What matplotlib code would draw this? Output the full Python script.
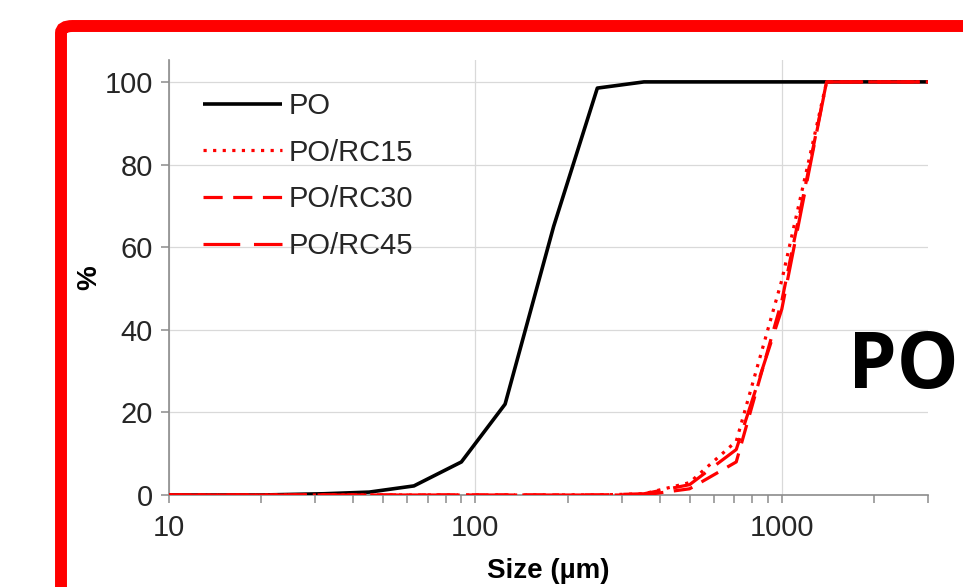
import matplotlib
matplotlib.use("Agg")
import matplotlib.pyplot as plt
from matplotlib.patches import FancyBboxPatch
from matplotlib.ticker import FixedLocator, NullFormatter

# ---- data ----
sizes = [10, 20, 32, 45, 63, 90, 125, 180, 250, 355, 500, 710, 1000, 1400, 2000, 3000]
po    = [0, 0, 0.3, 0.7, 2.2, 8, 22, 65, 98.5, 100, 100, 100, 100, 100, 100, 100]
rc15  = [0, 0, 0, 0, 0, 0, 0, 0, 0, 0.3, 3.0, 13, 52, 100, 100, 100]
rc30  = [0, 0, 0, 0, 0, 0, 0, 0, 0, 0.0, 1.5, 8, 47, 100, 100, 100]
rc45  = [0, 0, 0, 0, 0, 0, 0, 0, 0, 0.3, 2.5, 11, 45, 100, 100, 100]
labels = ["PO", "PO/RC15", "PO/RC30", "PO/RC45"]
x_major = [10, 100, 1000]
x_minor = [20, 30, 40, 50, 60, 70, 80, 90, 200, 300, 400, 500, 600, 700, 800, 900, 2000, 3000]
y_ticks = [0, 20, 40, 60, 80, 100]

W, H = 963, 587
fig = plt.figure(figsize=(W / 100, H / 100), dpi=100)
fig.patch.set_facecolor("white")

# red frame
frame = FancyBboxPatch((61 / W, -0.2), 1.3, 1 - 26 / H + 0.2,
                       boxstyle="round,pad=0,rounding_size=0.012",
                       transform=fig.transFigure, fill=False,
                       edgecolor="#ff0000", linewidth=8.6, zorder=0)
fig.patches.append(frame)

ax = fig.add_axes([169 / W, 1 - 495 / H, (928 - 169) / W, (495 - 60) / H])
ax.set_facecolor("none")

lw = 2.3
ax.plot(sizes, po, color="black", lw=2.6, solid_capstyle="butt", label=labels[0], zorder=3)
ax.plot(sizes, rc15, color="#ff0000", lw=lw, linestyle=(0, (1, 2)), label=labels[1], zorder=4)
ax.plot(sizes, rc30, color="#ff0000", lw=lw, linestyle=(0, (6, 3.3)), label=labels[2], zorder=4)
ax.plot(sizes, rc45, color="#ff0000", lw=lw, linestyle=(0, (11.5, 4.3)), label=labels[3], zorder=4)

ax.set_xscale("log")
ax.set_xlim(10, 3000)
ax.set_ylim(0, 105.3)
ax.xaxis.set_major_locator(FixedLocator(x_major))
ax.xaxis.set_minor_locator(FixedLocator(x_minor))
ax.xaxis.set_minor_formatter(NullFormatter())
ax.set_xticklabels([str(v) for v in x_major])
ax.set_yticks(y_ticks)
ax.set_yticklabels([str(v) for v in y_ticks])

font = "Liberation Sans"
tcol = "#262626"
for lab in ax.get_xticklabels() + ax.get_yticklabels():
    lab.set_fontfamily(font)
    lab.set_fontsize(21)
    lab.set_color(tcol)

gcol = "#d9d9d9"
ax.grid(True, which="major", axis="both", color=gcol, lw=0.9, zorder=0)
ax.set_axisbelow(True)

for s in ["top", "right"]:
    ax.spines[s].set_visible(False)
for s in ["left", "bottom"]:
    ax.spines[s].set_color("#8c8c8c")
    ax.spines[s].set_linewidth(1.2)

ax.tick_params(axis="both", which="both", direction="out", length=5.5, width=1.1, color="#8c8c8c")
ax.tick_params(axis="x", which="major", pad=8)
ax.tick_params(axis="y", which="major", pad=6)

ax.set_xlabel("Size (µm)", fontfamily=font, fontsize=20, fontweight="bold", color="black", labelpad=12)
ax.set_ylabel("%", fontfamily=font, fontsize=20, fontweight="bold", color="black")
ax.yaxis.set_label_coords((102 - 169) / (928 - 169), 0.5)

leg = ax.legend(loc="upper left", bbox_to_anchor=(203 / W, 1 - 92 / H), bbox_transform=fig.transFigure,
                frameon=False, prop={"family": font, "size": 21}, handlelength=2.7,
                handletextpad=0.25, labelspacing=0.64, borderaxespad=0, borderpad=0)
for t in leg.get_texts():
    t.set_color(tcol)

fig.text(848 / W, 1 - 388 / H, "PO", fontfamily="Open Sans", fontweight="bold", fontsize=56,
         color="black", ha="left", va="baseline")

fig.savefig("out.png", dpi=100)
